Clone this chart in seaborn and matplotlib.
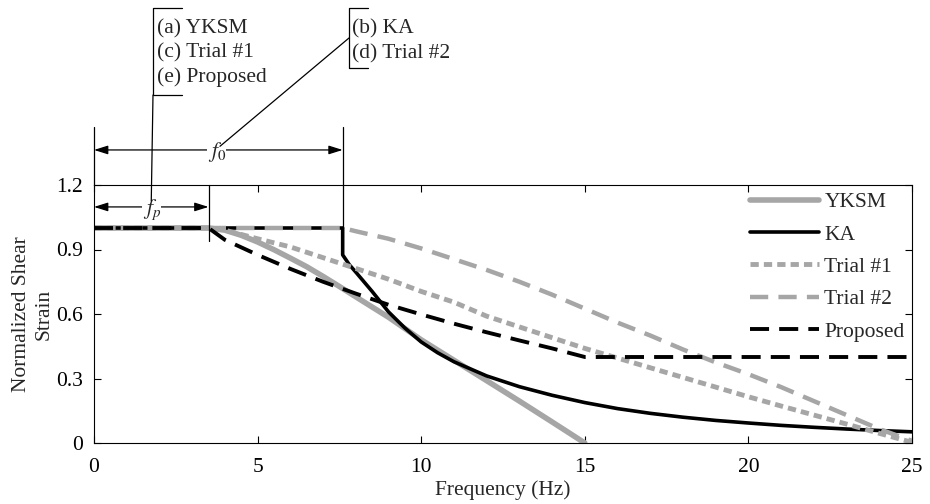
import numpy as np
import seaborn as sns
import matplotlib.pyplot as plt
from matplotlib.lines import Line2D

# --- data ---
freq_yksm = [0, 3.5, 4, 4.5, 5, 5.5, 6, 6.5, 7, 7.5, 8, 9, 10, 11, 12, 13, 14, 15]
strain_yksm = [1.0, 1.0, 0.99, 0.966, 0.935, 0.899, 0.86, 0.82, 0.775, 0.728,
               0.68, 0.585, 0.48, 0.385, 0.29, 0.195, 0.098, 0.0]

freq_ka = [0, 7.6, 7.6, 7.8, 8, 8.5, 9, 9.5, 10, 10.5, 11, 12, 13, 14, 15,
           16, 17, 18, 19, 20, 21, 22, 23, 24, 25]
strain_ka = [1.0, 1.0, 0.875, 0.83, 0.795, 0.705, 0.61, 0.535, 0.47, 0.42, 0.378,
             0.312, 0.262, 0.222, 0.188, 0.16, 0.138, 0.12, 0.105, 0.093, 0.082,
             0.073, 0.065, 0.058, 0.052]

freq_trial1 = [0, 3.5, 4, 4.5, 5, 6, 7, 8, 9, 10, 11, 12, 13, 14, 15, 16, 17,
               18, 19, 20, 21, 22, 23, 24, 25]
strain_trial1 = [1.0, 1.0, 0.99, 0.97, 0.95, 0.912, 0.862, 0.812, 0.762, 0.705,
                 0.655, 0.59, 0.54, 0.49, 0.44, 0.395, 0.35, 0.305, 0.26, 0.215,
                 0.172, 0.13, 0.088, 0.045, 0.003]

freq_trial2 = [0, 7.6, 8, 9, 10, 11, 12, 13, 14, 15, 16, 17, 18, 19, 20, 21,
               22, 23, 24, 25]
strain_trial2 = [1.0, 1.0, 0.985, 0.95, 0.905, 0.855, 0.805, 0.75, 0.69, 0.625,
                 0.56, 0.5, 0.435, 0.375, 0.32, 0.26, 0.195, 0.13, 0.065, 0.01]

freq_prop = [0, 3.5, 4, 5, 6, 7, 8, 9, 10, 11, 12, 13, 14, 15, 25]
strain_prop = [1.0, 1.0, 0.945, 0.875, 0.81, 0.75, 0.695, 0.643, 0.598, 0.555,
               0.515, 0.477, 0.44, 0.40, 0.40]

f_p = 3.5
f_0 = 7.6

x_ticks = [0, 5, 10, 15, 20, 25]
y_ticks = [0, 0.3, 0.6, 0.9, 1.2]
y_tick_labels = ['0', '0.3', '0.6', '0.9', '1.2']

# --- style ---
sns.set_theme(style="ticks")
plt.rcParams['font.family'] = ['Liberation Serif', 'DejaVu Serif']
plt.rcParams['mathtext.fontset'] = 'stix'
plt.rcParams['axes.linewidth'] = 0.8

gray = '#a6a6a6'
fs = 15.5

fig = plt.figure(figsize=(9.3, 5.04), dpi=100)
ax = fig.add_axes([94 / 930, 1 - 443 / 504, 818 / 930, 258 / 504])

series = [
    (freq_yksm, strain_yksm, 'YKSM', dict(color=gray, lw=4.0, linestyle='-')),
    (freq_ka, strain_ka, 'KA', dict(color='black', lw=2.6, linestyle='-')),
    (freq_trial1, strain_trial1, 'Trial #1', dict(color=gray, lw=3.5, linestyle=(0, (1.7, 1.05)))),
    (freq_trial2, strain_trial2, 'Trial #2', dict(color=gray, lw=3.2, linestyle=(0, (4.1, 2.3)))),
    (freq_prop, strain_prop, 'Proposed', dict(color='black', lw=2.8, linestyle=(0, (4.9, 2.6)))),
]
for fx, sy, name, kw in series:
    sns.lineplot(x=np.array(fx), y=np.array(sy), ax=ax, label=name,
                 estimator=None, sort=False, **kw)

ax.set_xlim(0, 25)
ax.set_ylim(0, 1.2)
ax.set_xticks(x_ticks)
ax.set_yticks(y_ticks)
ax.set_yticklabels(y_tick_labels)
ax.tick_params(direction='in', length=5, width=0.8, top=True, right=True,
               labelsize=fs, colors='black')
ax.tick_params(axis='x', pad=11)
ax.tick_params(axis='y', pad=8)
for s in ax.spines.values():
    s.set_color('black')

ax.set_xlabel('Frequency (Hz)', fontsize=fs, labelpad=2)
ax.set_ylabel('Normalized Shear\nStrain', fontsize=fs, labelpad=2, linespacing=1.2)

ax.legend(loc='upper left', bbox_to_anchor=(0.802, 0.972), frameon=False,
          fontsize=fs, handlelength=3.2, handletextpad=0.25, labelspacing=0.57,
          borderpad=0, borderaxespad=0)

# --- dimension lines for f_p and f_0 ---
dim_top = 1.47
ax.plot([0, 0], [1.2, dim_top], color='black', lw=0.9, clip_on=False)
ax.plot([f_0, f_0], [1.0, dim_top], color='black', lw=0.9, clip_on=False)
ax.plot([f_p, f_p], [0.94, 1.2], color='black', lw=0.9, clip_on=False)

arrow = dict(arrowstyle='<|-|>,head_length=0.7,head_width=0.22', lw=0.9,
             color='black', shrinkA=0, shrinkB=0)
ax.annotate('', xy=(0, 1.363), xytext=(f_0, 1.363), arrowprops=arrow,
            annotation_clip=False)
ax.annotate('', xy=(0, 1.098), xytext=(f_p, 1.098), arrowprops=arrow,
            annotation_clip=False)
ax.text(3.75, 1.355, r'$f_{\mathit{0}}$', ha='center', va='center', fontsize=fs,
        bbox=dict(fc='white', ec='none', pad=0.3), clip_on=False)
ax.text(1.77, 1.085, r'$f_p$', ha='center', va='center', fontsize=fs,
        bbox=dict(fc='white', ec='none', pad=0.3), clip_on=False)


# --- bracketed notes at the top (pixel positions from the top-left) ---
def px(x, y):
    return x / 930, 1 - y / 504


def bracket(x0, y0, y1, x1):
    xs, ys = zip(px(x1, y0), px(x0, y0), px(x0, y1), px(x1, y1))
    fig.add_artist(Line2D(xs, ys, transform=fig.transFigure, color='black', lw=0.9))


bracket(153, 8, 95, 182)
for txt, yb in zip(['(a) YKSM', '(c) Trial #1', '(e) Proposed'], [33, 57, 82]):
    fig.text(*px(157, yb), txt, fontsize=fs, va='baseline', ha='left')

bracket(349, 8, 68, 368)
for txt, yb in zip(['(b) KA', '(d) Trial #2'], [33, 58]):
    fig.text(*px(352, yb), txt, fontsize=fs, va='baseline', ha='left')

lead = dict(arrowstyle='-', lw=0.9, color='black', shrinkA=0, shrinkB=0)
ax.annotate('', xy=(1.75, 1.125), xycoords='data', xytext=(153, 504 - 95),
            textcoords='figure pixels', arrowprops=lead, annotation_clip=False)
ax.annotate('', xy=(3.85, 1.38), xycoords='data', xytext=(349, 504 - 38),
            textcoords='figure pixels', arrowprops=lead, annotation_clip=False)

fig.savefig('out.png', dpi=100)
